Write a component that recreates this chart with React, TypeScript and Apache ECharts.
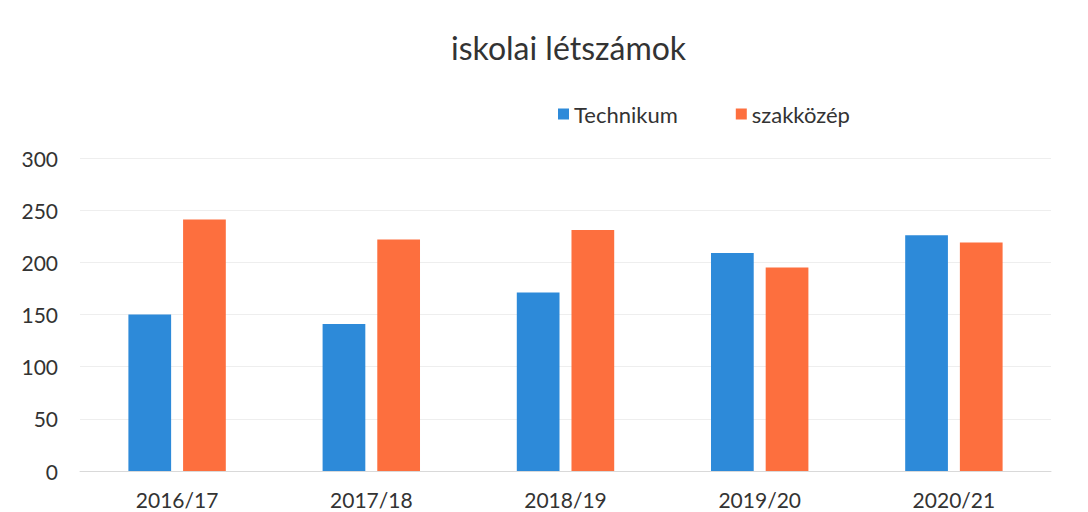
import React, { useEffect, useRef } from "react";
import * as echarts from "echarts";

const categories = ["2016/17", "2017/18", "2018/19", "2019/20", "2020/21"];
const technikum = [150, 141, 171, 209, 226];
const szakkozep = [241, 222, 231, 195, 219];
const seriesNames = ["Technikum", "szakközép"];
const titleText = "iskolai létszámok";

export default function App() {
  const ref = useRef<HTMLDivElement>(null);
  useEffect(() => {
    if (!ref.current) return;
    const chart = echarts.init(ref.current, null, { renderer: "svg" });
    const font = "Lato, 'Open Sans', sans-serif";
    chart.setOption({
      animation: false,
      backgroundColor: "#ffffff",
      title: {
        text: titleText,
        left: 446,
        top: 26,
        textStyle: { fontFamily: font, fontSize: 32, fontWeight: "normal", color: "#333333" },
      },
      legend: {
        data: seriesNames,
        left: 553,
        top: 98,
        icon: "rect",
        itemWidth: 11,
        itemHeight: 11,
        itemGap: 58,
        textStyle: { fontFamily: font, fontSize: 22, color: "#333333" },
      },
      grid: { left: 80, right: 37, top: 158, bottom: 41, containLabel: false },
      xAxis: {
        type: "category",
        data: categories,
        axisLine: { show: true, lineStyle: { color: "#d9d9d9", width: 1 } },
        axisTick: { show: false },
        axisLabel: { fontFamily: font, fontSize: 21, color: "#333333", margin: 18 },
      },
      yAxis: {
        type: "value",
        min: 0,
        max: 300,
        interval: 50,
        axisLine: { show: false },
        axisTick: { show: false },
        splitLine: { lineStyle: { color: "#eeeeee", width: 1 } },
        axisLabel: { fontFamily: font, fontSize: 21, color: "#333333", margin: 22, align: "right" },
      },
      series: [
        {
          name: seriesNames[0],
          type: "bar",
          data: technikum,
          barWidth: "22%",
          barGap: "28%",
          itemStyle: { color: "#2d8ad9" },
        },
        {
          name: seriesNames[1],
          type: "bar",
          data: szakkozep,
          barWidth: "22%",
          barGap: "28%",
          itemStyle: { color: "#fd6f3e" },
        },
      ],
    });
    return () => chart.dispose();
  }, []);
  return (
    <div
      ref={ref}
      style={{ position: "fixed", left: 0, top: 0, width: 1088, height: 512 }}
    />
  );
}
